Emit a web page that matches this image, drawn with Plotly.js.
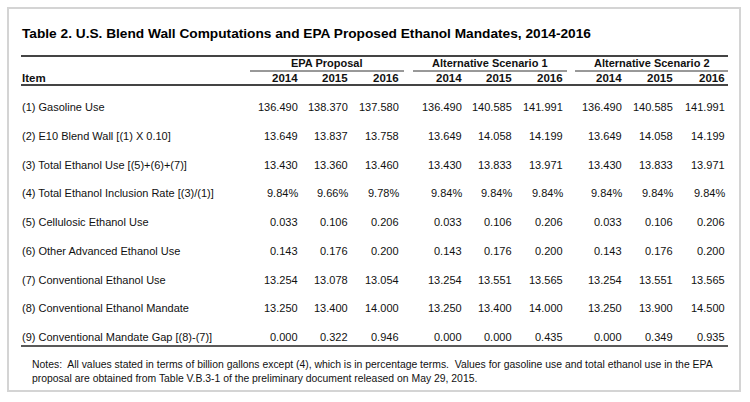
<!DOCTYPE html>
<html>
<head>
<meta charset="utf-8">
<script src="https://cdn.plot.ly/plotly-3.0.1.min.js"></script>
<style>html,body{margin:0;padding:0;background:#fff;}#chart{width:750px;height:402px;}</style>
</head>
<body>
<div id="chart"></div>
<script>
// ---- Data ----
var titleText = "Table 2. U.S. Blend Wall Computations and EPA Proposed Ethanol Mandates, 2014-2016";
var groupLabels = ["EPA Proposal", "Alternative Scenario 1", "Alternative Scenario 2"];
var yearLabels = ["2014", "2015", "2016"];
var itemHeader = "Item";
var items = [
  "(1) Gasoline Use",
  "(2) E10 Blend Wall [(1) X 0.10]",
  "(3) Total Ethanol Use [(5)+(6)+(7)]",
  "(4) Total Ethanol Inclusion Rate [(3)/(1)]",
  "(5) Cellulosic Ethanol Use",
  "(6) Other Advanced Ethanol Use",
  "(7) Conventional Ethanol Use",
  "(8) Conventional Ethanol Mandate",
  "(9) Conventional Mandate Gap [(8)-(7)]"
];
var percentRow = 3;
var epa2014 = [136.490, 13.649, 13.430, 9.84, 0.033, 0.143, 13.254, 13.250, 0.000];
var epa2015 = [138.370, 13.837, 13.360, 9.66, 0.106, 0.176, 13.078, 13.400, 0.322];
var epa2016 = [137.580, 13.758, 13.460, 9.78, 0.206, 0.200, 13.054, 14.000, 0.946];
var alt1_2014 = [136.490, 13.649, 13.430, 9.84, 0.033, 0.143, 13.254, 13.250, 0.000];
var alt1_2015 = [140.585, 14.058, 13.833, 9.84, 0.106, 0.176, 13.551, 13.400, 0.000];
var alt1_2016 = [141.991, 14.199, 13.971, 9.84, 0.206, 0.200, 13.565, 14.000, 0.435];
var alt2_2014 = [136.490, 13.649, 13.430, 9.84, 0.033, 0.143, 13.254, 13.250, 0.000];
var alt2_2015 = [140.585, 14.058, 13.833, 9.84, 0.106, 0.176, 13.551, 13.900, 0.349];
var alt2_2016 = [141.991, 14.199, 13.971, 9.84, 0.206, 0.200, 13.565, 14.500, 0.935];
var notesLines = [
  "Notes:  All values stated in terms of billion gallons except (4), which is in percentage terms.  Values for gasoline use and total ethanol use in the EPA",
  "proposal are obtained from Table V.B.3-1 of the preliminary document released on May 29, 2015."
];

// ---- Layout helpers ----
var columns = [epa2014, epa2015, epa2016, alt1_2014, alt1_2015, alt1_2016, alt2_2014, alt2_2015, alt2_2016];
var colRight = [300, 350, 401, 464, 514, 565, 624, 675, 727];
var groupSpan = [[250, 404], [413, 567], [575, 728]];
var rowY0 = 107, rowStep = 28.75;
var FONT = "Liberation Sans, Arial, sans-serif";
var ann = [];
function A(text, x, y, xa, size, bold, color) {
  ann.push({text: bold ? "<b>" + text + "</b>" : text, x: x, y: y, xref: "x", yref: "y",
    xanchor: xa, yanchor: "middle", showarrow: false,
    font: {family: FONT, size: size, color: color || "#111"}});
}
A(titleText, 20, 33, "left", 13.7, true, "#000");
groupLabels.forEach(function (g, i) {
  A(g, (groupSpan[i][0] + groupSpan[i][1]) / 2, 63, "center", 11, true);
  yearLabels.forEach(function (yl, j) { A(yl, colRight[i * 3 + j], 78, "right", 11.5, true); });
});
A(itemHeader, 20, 78, "left", 11.5, true);
items.forEach(function (it, r) {
  var y = rowY0 + r * rowStep;
  A(it, 20, y, "left", 11, false);
  columns.forEach(function (col, c) {
    var v = col[r];
    var t = (r === percentRow) ? v.toFixed(2) + "%" : v.toFixed(3);
    A(t, colRight[c], y, "right", 11, false);
  });
});
notesLines.forEach(function (ln, i) { A(ln, 30, 364 + i * 14, "left", 10.4, false); });

var shapes = [
  {type: "rect", xref: "x", yref: "y", x0: 8, x1: 740, y0: 8, y1: 391, line: {color: "#d4d4d4", width: 2}},
  {type: "line", xref: "x", yref: "y", x0: 21, x1: 728, y0: 56, y1: 56, line: {color: "#444", width: 2}},
  {type: "line", xref: "x", yref: "y", x0: 21, x1: 728, y0: 85, y1: 85, line: {color: "#444", width: 2}},
  {type: "line", xref: "x", yref: "y", x0: 21, x1: 728, y0: 346, y1: 346, line: {color: "#222", width: 1.5}}
];
groupSpan.forEach(function (s) {
  shapes.push({type: "line", xref: "x", yref: "y", x0: s[0], x1: s[1], y0: 71, y1: 71, line: {color: "#333", width: 1}});
});

var data = [{type: "scatter", x: [], y: [], mode: "markers", hoverinfo: "skip", showlegend: false}];
var layout = {
  width: 750, height: 402, margin: {l: 0, r: 0, t: 0, b: 0},
  paper_bgcolor: "#fff", plot_bgcolor: "#fff", showlegend: false,
  xaxis: {range: [0, 750], visible: false, fixedrange: true},
  yaxis: {range: [402, 0], visible: false, fixedrange: true},
  annotations: ann, shapes: shapes
};
Plotly.newPlot("chart", data, layout, {staticPlot: true, displayModeBar: false});
</script>
</body>
</html>
